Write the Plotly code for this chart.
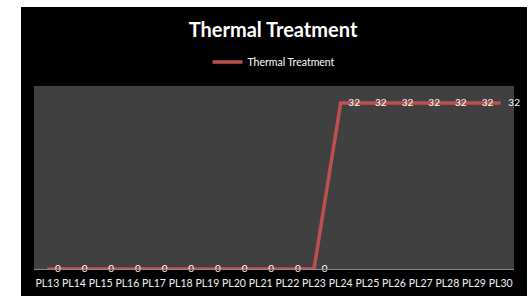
import plotly.graph_objects as go

categories = ["PL13", "PL14", "PL15", "PL16", "PL17", "PL18", "PL19", "PL20", "PL21",
              "PL22", "PL23", "PL24", "PL25", "PL26", "PL27", "PL28", "PL29", "PL30"]
values = [0, 0, 0, 0, 0, 0, 0, 0, 0, 0, 0, 32, 32, 32, 32, 32, 32, 32]
series_name = "Thermal Treatment"
title_text = "Thermal Treatment"

W, H = 529, 296
L, R, T, B = 34, 15, 86, 27
pw, ph = W - L - R, H - T - B

fig = go.Figure()
fig.add_trace(go.Scatter(
    x=categories, y=values, mode="lines+text", name=series_name,
    text=["\u00a0\u00a0\u00a0" + str(v) for v in values], textposition="middle right",
    textfont=dict(color="white", size=10, family="Lato"),
    line=dict(color="#c0504d", width=3.5),
    cliponaxis=False,
))

bx0 = (21 - L) / pw
bx1 = (527 - L) / pw
by0 = -(H - (T + ph)) / ph
by1 = (T + ph - 7) / ph
fig.add_shape(type="rect", xref="paper", yref="paper", x0=bx0, x1=bx1, y0=by0, y1=by1,
              fillcolor="black", line=dict(width=0), layer="below")
fig.add_shape(type="rect", xref="paper", yref="paper", x0=0, x1=1, y0=0, y1=1,
              fillcolor="#404040", line=dict(width=0), layer="below")

fig.update_layout(
    width=W, height=H,
    margin=dict(l=L, r=R, t=T, b=B, autoexpand=False),
    paper_bgcolor="white", plot_bgcolor="rgba(0,0,0,0)",
    title=dict(text="<b>" + title_text + "</b>", x=273 / W, xanchor="center",
               y=1 - 30 / H, yanchor="middle",
               font=dict(family="Lato", size=20, color="white")),
    showlegend=True,
    legend=dict(orientation="h", x=0.5, xanchor="center", y=(T + ph - 62) / ph, yanchor="middle",
                font=dict(family="Lato", size=10.5, color="white"),
                bgcolor="rgba(0,0,0,0)", itemwidth=30),
    xaxis=dict(type="category", showgrid=False, zeroline=False, automargin=False,
               showline=True, linecolor="#8a8a8a", linewidth=1, tickangle=0,
               ticklabelstandoff=4,
               tickfont=dict(family="Lato", size=10.5, color="#f2f2f2"), ticks="",
               range=[-0.5, len(categories) - 0.5]),
    yaxis=dict(range=[0, 35.3], showgrid=False, zeroline=False, showticklabels=False,
               showline=False, automargin=False),
)

fig.write_html("out.html", config={"displayModeBar": False})
with open("out.html", "r", encoding="utf-8") as f:
    html = f.read()
html = html.replace("<body>", '<body style="margin:0;padding:0;overflow:hidden">', 1)
with open("out.html", "w", encoding="utf-8") as f:
    f.write(html)
